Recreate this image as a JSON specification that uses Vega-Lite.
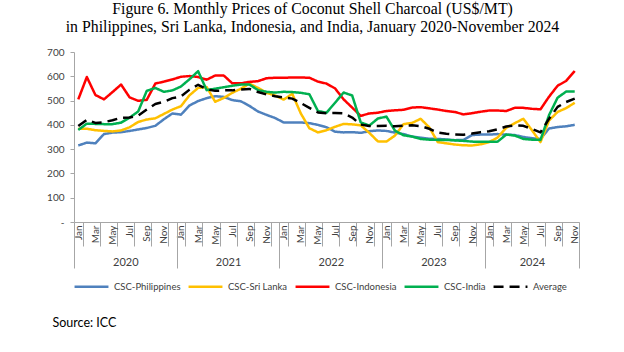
{
"$schema": "https://vega.github.io/schema/vega-lite/v6.json",
"width": 505, "height": 170,
"autosize": "none",
"padding": {"left": 74, "top": 52, "right": 45, "bottom": 130},
"background": "white",
"title": {"text": ["Figure 6. Monthly Prices of Coconut Shell Charcoal (US$/MT)", "in Philippines, Sri Lanka, Indonesia, and India, January 2020-November 2024"], "font": "Liberation Serif", "fontSize": 15.8, "fontWeight": "normal", "color": "black", "anchor": "middle", "frame": "group", "dx": -14, "offset": 11, "lineHeight": 18},
"config": {
  "view": {"stroke": null},
  "axis": {"grid": false},
  "legend": {"symbolType": "stroke", "symbolSize": 1150, "symbolStrokeWidth": 2.5, "labelFont": "Lato", "labelFontSize": 9.5, "labelColor": "#404040", "columnPadding": 2, "labelOffset": 4}
},
"datasets": {"d": [
{"t":0,"s":"CSC-Philippines","v":315},{"t":1,"s":"CSC-Philippines","v":327},{"t":2,"s":"CSC-Philippines","v":324},{"t":3,"s":"CSC-Philippines","v":362},{"t":4,"s":"CSC-Philippines","v":368},{"t":5,"s":"CSC-Philippines","v":370},{"t":6,"s":"CSC-Philippines","v":375},{"t":7,"s":"CSC-Philippines","v":381},{"t":8,"s":"CSC-Philippines","v":387},{"t":9,"s":"CSC-Philippines","v":396},{"t":10,"s":"CSC-Philippines","v":423},{"t":11,"s":"CSC-Philippines","v":447},
{"t":12,"s":"CSC-Philippines","v":442},{"t":13,"s":"CSC-Philippines","v":480},{"t":14,"s":"CSC-Philippines","v":498},{"t":15,"s":"CSC-Philippines","v":510},{"t":16,"s":"CSC-Philippines","v":518},{"t":17,"s":"CSC-Philippines","v":515},{"t":18,"s":"CSC-Philippines","v":502},{"t":19,"s":"CSC-Philippines","v":497},{"t":20,"s":"CSC-Philippines","v":478},{"t":21,"s":"CSC-Philippines","v":455},{"t":22,"s":"CSC-Philippines","v":441},{"t":23,"s":"CSC-Philippines","v":428},
{"t":24,"s":"CSC-Philippines","v":410},{"t":25,"s":"CSC-Philippines","v":410},{"t":26,"s":"CSC-Philippines","v":410},{"t":27,"s":"CSC-Philippines","v":407},{"t":28,"s":"CSC-Philippines","v":400},{"t":29,"s":"CSC-Philippines","v":390},{"t":30,"s":"CSC-Philippines","v":372},{"t":31,"s":"CSC-Philippines","v":369},{"t":32,"s":"CSC-Philippines","v":370},{"t":33,"s":"CSC-Philippines","v":367},{"t":34,"s":"CSC-Philippines","v":374},{"t":35,"s":"CSC-Philippines","v":377},
{"t":36,"s":"CSC-Philippines","v":375},{"t":37,"s":"CSC-Philippines","v":368},{"t":38,"s":"CSC-Philippines","v":362},{"t":39,"s":"CSC-Philippines","v":352},{"t":40,"s":"CSC-Philippines","v":347},{"t":41,"s":"CSC-Philippines","v":343},{"t":42,"s":"CSC-Philippines","v":342},{"t":43,"s":"CSC-Philippines","v":340},{"t":44,"s":"CSC-Philippines","v":337},{"t":45,"s":"CSC-Philippines","v":338},{"t":46,"s":"CSC-Philippines","v":358},{"t":47,"s":"CSC-Philippines","v":360},
{"t":48,"s":"CSC-Philippines","v":360},{"t":49,"s":"CSC-Philippines","v":362},{"t":50,"s":"CSC-Philippines","v":360},{"t":51,"s":"CSC-Philippines","v":358},{"t":52,"s":"CSC-Philippines","v":350},{"t":53,"s":"CSC-Philippines","v":345},{"t":54,"s":"CSC-Philippines","v":342},{"t":55,"s":"CSC-Philippines","v":385},{"t":56,"s":"CSC-Philippines","v":391},{"t":57,"s":"CSC-Philippines","v":394},{"t":58,"s":"CSC-Philippines","v":400},
{"t":0,"s":"CSC-Sri Lanka","v":384},{"t":1,"s":"CSC-Sri Lanka","v":384},{"t":2,"s":"CSC-Sri Lanka","v":378},{"t":3,"s":"CSC-Sri Lanka","v":375},{"t":4,"s":"CSC-Sri Lanka","v":373},{"t":5,"s":"CSC-Sri Lanka","v":377},{"t":6,"s":"CSC-Sri Lanka","v":390},{"t":7,"s":"CSC-Sri Lanka","v":412},{"t":8,"s":"CSC-Sri Lanka","v":422},{"t":9,"s":"CSC-Sri Lanka","v":427},{"t":10,"s":"CSC-Sri Lanka","v":445},{"t":11,"s":"CSC-Sri Lanka","v":463},
{"t":12,"s":"CSC-Sri Lanka","v":477},{"t":13,"s":"CSC-Sri Lanka","v":522},{"t":14,"s":"CSC-Sri Lanka","v":552},{"t":15,"s":"CSC-Sri Lanka","v":556},{"t":16,"s":"CSC-Sri Lanka","v":495},{"t":17,"s":"CSC-Sri Lanka","v":511},{"t":18,"s":"CSC-Sri Lanka","v":532},{"t":19,"s":"CSC-Sri Lanka","v":549},{"t":20,"s":"CSC-Sri Lanka","v":570},{"t":21,"s":"CSC-Sri Lanka","v":552},{"t":22,"s":"CSC-Sri Lanka","v":532},{"t":23,"s":"CSC-Sri Lanka","v":521},
{"t":24,"s":"CSC-Sri Lanka","v":504},{"t":25,"s":"CSC-Sri Lanka","v":528},{"t":26,"s":"CSC-Sri Lanka","v":447},{"t":27,"s":"CSC-Sri Lanka","v":386},{"t":28,"s":"CSC-Sri Lanka","v":369},{"t":29,"s":"CSC-Sri Lanka","v":378},{"t":30,"s":"CSC-Sri Lanka","v":392},{"t":31,"s":"CSC-Sri Lanka","v":404},{"t":32,"s":"CSC-Sri Lanka","v":402},{"t":33,"s":"CSC-Sri Lanka","v":398},{"t":34,"s":"CSC-Sri Lanka","v":367},{"t":35,"s":"CSC-Sri Lanka","v":332},
{"t":36,"s":"CSC-Sri Lanka","v":331},{"t":37,"s":"CSC-Sri Lanka","v":356},{"t":38,"s":"CSC-Sri Lanka","v":403},{"t":39,"s":"CSC-Sri Lanka","v":408},{"t":40,"s":"CSC-Sri Lanka","v":425},{"t":41,"s":"CSC-Sri Lanka","v":390},{"t":42,"s":"CSC-Sri Lanka","v":329},{"t":43,"s":"CSC-Sri Lanka","v":324},{"t":44,"s":"CSC-Sri Lanka","v":319},{"t":45,"s":"CSC-Sri Lanka","v":316},{"t":46,"s":"CSC-Sri Lanka","v":315},{"t":47,"s":"CSC-Sri Lanka","v":320},
{"t":48,"s":"CSC-Sri Lanka","v":329},{"t":49,"s":"CSC-Sri Lanka","v":348},{"t":50,"s":"CSC-Sri Lanka","v":388},{"t":51,"s":"CSC-Sri Lanka","v":407},{"t":52,"s":"CSC-Sri Lanka","v":425},{"t":53,"s":"CSC-Sri Lanka","v":378},{"t":54,"s":"CSC-Sri Lanka","v":329},{"t":55,"s":"CSC-Sri Lanka","v":418},{"t":56,"s":"CSC-Sri Lanka","v":453},{"t":57,"s":"CSC-Sri Lanka","v":469},{"t":58,"s":"CSC-Sri Lanka","v":491},
{"t":0,"s":"CSC-Indonesia","v":505},{"t":1,"s":"CSC-Indonesia","v":597},{"t":2,"s":"CSC-Indonesia","v":523},{"t":3,"s":"CSC-Indonesia","v":505},{"t":4,"s":"CSC-Indonesia","v":535},{"t":5,"s":"CSC-Indonesia","v":566},{"t":6,"s":"CSC-Indonesia","v":513},{"t":7,"s":"CSC-Indonesia","v":499},{"t":8,"s":"CSC-Indonesia","v":503},{"t":9,"s":"CSC-Indonesia","v":570},{"t":10,"s":"CSC-Indonesia","v":578},{"t":11,"s":"CSC-Indonesia","v":587},
{"t":12,"s":"CSC-Indonesia","v":598},{"t":13,"s":"CSC-Indonesia","v":601},{"t":14,"s":"CSC-Indonesia","v":597},{"t":15,"s":"CSC-Indonesia","v":586},{"t":16,"s":"CSC-Indonesia","v":603},{"t":17,"s":"CSC-Indonesia","v":603},{"t":18,"s":"CSC-Indonesia","v":571},{"t":19,"s":"CSC-Indonesia","v":571},{"t":20,"s":"CSC-Indonesia","v":577},{"t":21,"s":"CSC-Indonesia","v":580},{"t":22,"s":"CSC-Indonesia","v":592},{"t":23,"s":"CSC-Indonesia","v":594},
{"t":24,"s":"CSC-Indonesia","v":594},{"t":25,"s":"CSC-Indonesia","v":595},{"t":26,"s":"CSC-Indonesia","v":595},{"t":27,"s":"CSC-Indonesia","v":594},{"t":28,"s":"CSC-Indonesia","v":578},{"t":29,"s":"CSC-Indonesia","v":570},{"t":30,"s":"CSC-Indonesia","v":550},{"t":31,"s":"CSC-Indonesia","v":505},{"t":32,"s":"CSC-Indonesia","v":471},{"t":33,"s":"CSC-Indonesia","v":437},{"t":34,"s":"CSC-Indonesia","v":447},{"t":35,"s":"CSC-Indonesia","v":450},
{"t":36,"s":"CSC-Indonesia","v":457},{"t":37,"s":"CSC-Indonesia","v":460},{"t":38,"s":"CSC-Indonesia","v":462},{"t":39,"s":"CSC-Indonesia","v":471},{"t":40,"s":"CSC-Indonesia","v":473},{"t":41,"s":"CSC-Indonesia","v":468},{"t":42,"s":"CSC-Indonesia","v":463},{"t":43,"s":"CSC-Indonesia","v":457},{"t":44,"s":"CSC-Indonesia","v":453},{"t":45,"s":"CSC-Indonesia","v":443},{"t":46,"s":"CSC-Indonesia","v":448},{"t":47,"s":"CSC-Indonesia","v":454},
{"t":48,"s":"CSC-Indonesia","v":459},{"t":49,"s":"CSC-Indonesia","v":459},{"t":50,"s":"CSC-Indonesia","v":457},{"t":51,"s":"CSC-Indonesia","v":470},{"t":52,"s":"CSC-Indonesia","v":470},{"t":53,"s":"CSC-Indonesia","v":466},{"t":54,"s":"CSC-Indonesia","v":464},{"t":55,"s":"CSC-Indonesia","v":516},{"t":56,"s":"CSC-Indonesia","v":561},{"t":57,"s":"CSC-Indonesia","v":581},{"t":58,"s":"CSC-Indonesia","v":622},
{"t":0,"s":"CSC-India","v":379},{"t":1,"s":"CSC-India","v":405},{"t":2,"s":"CSC-India","v":404},{"t":3,"s":"CSC-India","v":403},{"t":4,"s":"CSC-India","v":403},{"t":5,"s":"CSC-India","v":409},{"t":6,"s":"CSC-India","v":430},{"t":7,"s":"CSC-India","v":455},{"t":8,"s":"CSC-India","v":540},{"t":9,"s":"CSC-India","v":552},{"t":10,"s":"CSC-India","v":536},{"t":11,"s":"CSC-India","v":542},
{"t":12,"s":"CSC-India","v":558},{"t":13,"s":"CSC-India","v":588},{"t":14,"s":"CSC-India","v":621},{"t":15,"s":"CSC-India","v":543},{"t":16,"s":"CSC-India","v":549},{"t":17,"s":"CSC-India","v":555},{"t":18,"s":"CSC-India","v":561},{"t":19,"s":"CSC-India","v":566},{"t":20,"s":"CSC-India","v":566},{"t":21,"s":"CSC-India","v":543},{"t":22,"s":"CSC-India","v":536},{"t":23,"s":"CSC-India","v":533},
{"t":24,"s":"CSC-India","v":536},{"t":25,"s":"CSC-India","v":535},{"t":26,"s":"CSC-India","v":532},{"t":27,"s":"CSC-India","v":526},{"t":28,"s":"CSC-India","v":457},{"t":29,"s":"CSC-India","v":450},{"t":30,"s":"CSC-India","v":491},{"t":31,"s":"CSC-India","v":533},{"t":32,"s":"CSC-India","v":521},{"t":33,"s":"CSC-India","v":410},{"t":34,"s":"CSC-India","v":397},{"t":35,"s":"CSC-India","v":426},
{"t":36,"s":"CSC-India","v":434},{"t":37,"s":"CSC-India","v":376},{"t":38,"s":"CSC-India","v":357},{"t":39,"s":"CSC-India","v":352},{"t":40,"s":"CSC-India","v":342},{"t":41,"s":"CSC-India","v":339},{"t":42,"s":"CSC-India","v":338},{"t":43,"s":"CSC-India","v":338},{"t":44,"s":"CSC-India","v":336},{"t":45,"s":"CSC-India","v":334},{"t":46,"s":"CSC-India","v":331},{"t":47,"s":"CSC-India","v":330},
{"t":48,"s":"CSC-India","v":330},{"t":49,"s":"CSC-India","v":331},{"t":50,"s":"CSC-India","v":360},{"t":51,"s":"CSC-India","v":356},{"t":52,"s":"CSC-India","v":342},{"t":53,"s":"CSC-India","v":339},{"t":54,"s":"CSC-India","v":338},{"t":55,"s":"CSC-India","v":440},{"t":56,"s":"CSC-India","v":512},{"t":57,"s":"CSC-India","v":537},{"t":58,"s":"CSC-India","v":537},
{"t":0,"s":"Average","v":395},{"t":1,"s":"Average","v":421},{"t":2,"s":"Average","v":408},{"t":3,"s":"Average","v":411},{"t":4,"s":"Average","v":419},{"t":5,"s":"Average","v":429},{"t":6,"s":"Average","v":430},{"t":7,"s":"Average","v":438},{"t":8,"s":"Average","v":463},{"t":9,"s":"Average","v":486},{"t":10,"s":"Average","v":495},{"t":11,"s":"Average","v":510},
{"t":12,"s":"Average","v":517},{"t":13,"s":"Average","v":545},{"t":14,"s":"Average","v":565},{"t":15,"s":"Average","v":547},{"t":16,"s":"Average","v":540},{"t":17,"s":"Average","v":542},{"t":18,"s":"Average","v":542},{"t":19,"s":"Average","v":546},{"t":20,"s":"Average","v":548},{"t":21,"s":"Average","v":535},{"t":22,"s":"Average","v":525},{"t":23,"s":"Average","v":518},
{"t":24,"s":"Average","v":513},{"t":25,"s":"Average","v":508},{"t":26,"s":"Average","v":490},{"t":27,"s":"Average","v":470},{"t":28,"s":"Average","v":451},{"t":29,"s":"Average","v":448},{"t":30,"s":"Average","v":449},{"t":31,"s":"Average","v":447},{"t":32,"s":"Average","v":430},{"t":33,"s":"Average","v":401},{"t":34,"s":"Average","v":395},{"t":35,"s":"Average","v":395},
{"t":36,"s":"Average","v":396},{"t":37,"s":"Average","v":394},{"t":38,"s":"Average","v":397},{"t":39,"s":"Average","v":398},{"t":40,"s":"Average","v":395},{"t":41,"s":"Average","v":384},{"t":42,"s":"Average","v":368},{"t":43,"s":"Average","v":363},{"t":44,"s":"Average","v":360},{"t":45,"s":"Average","v":359},{"t":46,"s":"Average","v":364},{"t":47,"s":"Average","v":370},
{"t":48,"s":"Average","v":374},{"t":49,"s":"Average","v":382},{"t":50,"s":"Average","v":393},{"t":51,"s":"Average","v":398},{"t":52,"s":"Average","v":396},{"t":53,"s":"Average","v":383},{"t":54,"s":"Average","v":369},{"t":55,"s":"Average","v":425},{"t":56,"s":"Average","v":474},{"t":57,"s":"Average","v":494},{"t":58,"s":"Average","v":508}
]},
"data": {"name": "d"},
"resolve": {"axis": {"x": "independent"}},
"layer": [
{
  "mark": {"type": "line", "strokeCap": "butt", "strokeJoin": "round"},
  "encoding": {
    "x": {"field": "t", "type": "quantitative", "scale": {"domain": [-0.5, 58.5], "nice": false, "zero": false},
      "axis": {"orient": "bottom", "values": [0.5,2.5,4.5,6.5,8.5,10.5,12.5,14.5,16.5,18.5,20.5,22.5,24.5,26.5,28.5,30.5,32.5,34.5,36.5,38.5,40.5,42.5,44.5,46.5,48.5,50.5,52.5,54.5,56.5,58.5],
        "labelExpr": "['Jan','Feb','Mar','Apr','May','Jun','Jul','Aug','Sep','Oct','Nov','Dec'][(datum.value - 0.5) % 12]",
        "labelAngle": -90, "labelAlign": "right", "labelBaseline": "middle", "labelOffset": -4.28, "labelPadding": -21,
        "tickSize": 24, "tickColor": "#a6a6a6", "domainColor": "#a6a6a6",
        "labelFont": "Lato", "labelFontSize": 10, "labelColor": "#404040",
        "labelOverlap": false, "labelBound": false, "labelFlush": false, "title": null}},
    "y": {"field": "v", "type": "quantitative", "scale": {"domain": [0, 700], "nice": false},
      "axis": {"values": [0,100,200,300,400,500,600,700], "labelExpr": "datum.value == 0 ? '-' : datum.label",
        "domainColor": "#a6a6a6", "tickColor": "#a6a6a6", "tickSize": 4, "labelPadding": 6,
        "labelFont": "Lato", "labelFontSize": 10, "labelColor": "#404040", "title": null}},
    "color": {"field": "s", "type": "nominal", "title": null,
      "legend": {"orient": "none", "legendX": -1, "legendY": 216, "direction": "horizontal", "title": null},
      "scale": {"domain": ["CSC-Philippines","CSC-Sri Lanka","CSC-Indonesia","CSC-India","Average"], "range": ["#4F81BD","#FFC000","#FF0000","#00B050","#000000"]}},
    "strokeDash": {"field": "s", "type": "nominal", "title": null,
      "legend": {"orient": "none", "legendX": -1, "legendY": 216, "direction": "horizontal", "title": null},
      "scale": {"domain": ["CSC-Philippines","CSC-Sri Lanka","CSC-Indonesia","CSC-India","Average"], "range": [[1,0],[1,0],[1,0],[1,0],[10,6]]}},
    "strokeWidth": {"field": "s", "type": "nominal", "legend": null,
      "scale": {"domain": ["CSC-Philippines","CSC-Sri Lanka","CSC-Indonesia","CSC-India","Average"], "range": [2.5,2.5,2.5,2.5,3.8]}}
  }
},
{
  "mark": {"type": "rule", "opacity": 0},
  "encoding": {
    "x": {"field": "t", "type": "quantitative",
      "axis": {"orient": "bottom", "values": [5.5,17.5,29.5,41.5,53], "labelExpr": "'' + (2020 + floor(datum.value / 12))",
        "ticks": false, "tickSize": 0, "domain": false, "labelPadding": 40, "labelAngle": 0, "labelBaseline": "middle",
        "labelFont": "Lato", "labelFontSize": 11, "labelColor": "#404040", "labelOverlap": false, "labelBound": false, "labelFlush": false,
        "title": "Source: ICC", "titleFont": "Lato", "titleFontSize": 12.5, "titleFontWeight": "normal", "titleColor": "black",
        "titleAnchor": "start", "titleAlign": "left", "titleBaseline": "alphabetic", "titleX": -22, "titleY": 104}}
  }
},
{
  "mark": {"type": "rule", "opacity": 0},
  "encoding": {
    "x": {"field": "t", "type": "quantitative",
      "axis": {"orient": "bottom", "values": [-0.5,11.5,23.5,35.5,47.5,58.5], "labels": false, "tickSize": 46, "tickColor": "#a6a6a6", "domain": false, "title": null}}
  }
}
]
}
